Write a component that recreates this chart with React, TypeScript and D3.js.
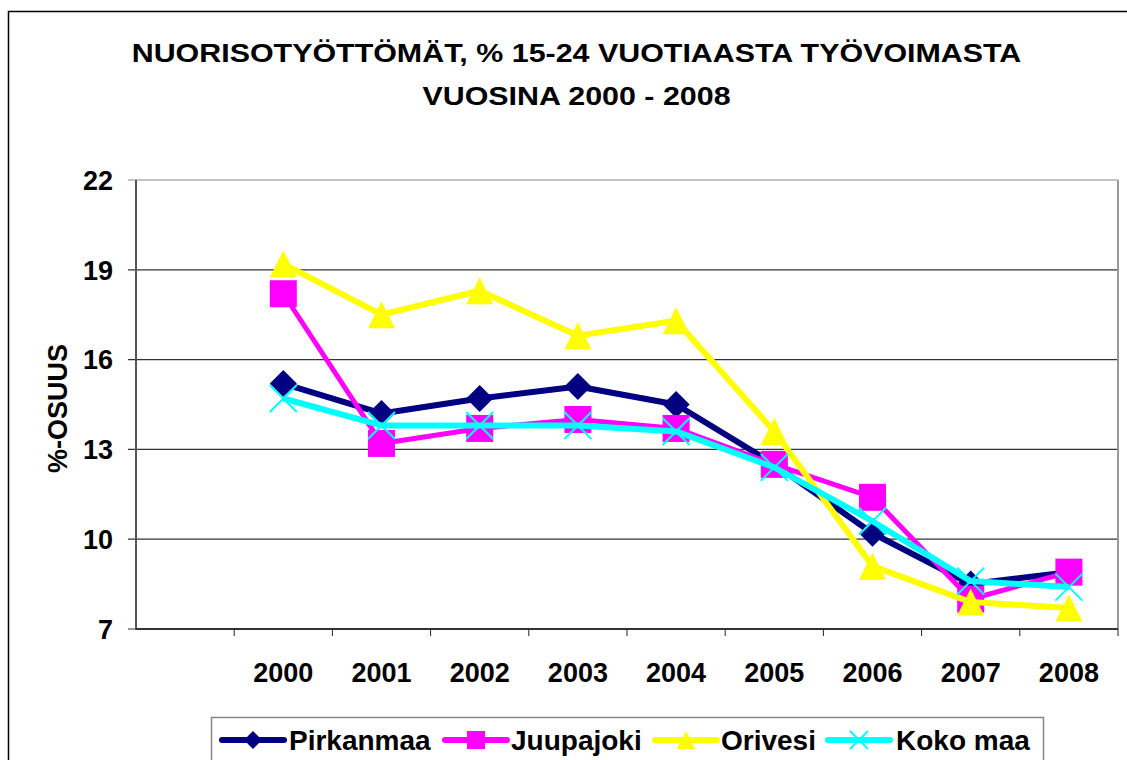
import React from "react";
import * as d3 from "d3";

const categories = ["", "2000", "2001", "2002", "2003", "2004", "2005", "2006", "2007", "2008"];
const years = ["2000", "2001", "2002", "2003", "2004", "2005", "2006", "2007", "2008"];
const pirkanmaa = [15.2, 14.2, 14.7, 15.1, 14.5, 12.5, 10.2, 8.5, 8.9];
const juupajoki = [18.2, 13.2, 13.7, 14.0, 13.7, 12.5, 11.4, 8.0, 8.9];
const orivesi = [19.2, 17.5, 18.3, 16.8, 17.3, 13.6, 9.1, 7.9, 7.7];
const kokoMaa = [14.7, 13.8, 13.8, 13.8, 13.6, 12.4, 10.6, 8.6, 8.4];
const yTicks = [7, 10, 13, 16, 19, 22];
const titleLines = ["NUORISOTYÖTTÖMÄT, % 15-24 VUOTIAASTA TYÖVOIMASTA", "VUOSINA 2000 - 2008"];
const yTitle = "%-OSUUS";

const series = [
  { name: "Pirkanmaa", values: pirkanmaa, color: "#000080", marker: "diamond", width: 6 },
  { name: "Juupajoki", values: juupajoki, color: "#FF00FF", marker: "square", width: 5 },
  { name: "Orivesi", values: orivesi, color: "#FFFF00", marker: "triangle", width: 6 },
  { name: "Koko maa", values: kokoMaa, color: "#00FFFF", marker: "x", width: 6 },
];

const FONT = "'Liberation Sans', Arial, Helvetica, sans-serif";

function Marker({ type, x, y, color, s }: { type: string; x: number; y: number; color: string; s: number }) {
  const h = s / 2;
  if (type === "diamond") {
    return <path d={`M${x},${y - h}L${x + h},${y}L${x},${y + h}L${x - h},${y}Z`} fill={color} />;
  }
  if (type === "square") {
    return <rect x={x - h} y={y - h} width={s} height={s} fill={color} />;
  }
  if (type === "triangle") {
    return <path d={`M${x},${y - h}L${x + h},${y + h}L${x - h},${y + h}Z`} fill={color} />;
  }
  return (
    <path d={`M${x - h},${y - h}L${x + h},${y + h}M${x + h},${y - h}L${x - h},${y + h}`} stroke={color} strokeWidth={2} fill="none" />
  );
}

export default function App() {
  const W = 1127, H = 760;
  const left = 136, right = 1118, top = 180, bottom = 629;
  const x = d3.scaleBand<string>().domain(categories).range([left, right]);
  const y = d3.scaleLinear().domain([7, 22]).range([bottom, top]);
  const cx = (c: string) => (x(c) as number) + x.bandwidth() / 2;
  const line = d3.line<number>().x((_, i) => cx(years[i])).y((v) => y(v));

  const legendItems = [
    { ...series[0], lx: 222, tx: 289 },
    { ...series[1], lx: 445, tx: 511 },
    { ...series[2], lx: 655, tx: 721 },
    { ...series[3], lx: 828, tx: 896 },
  ];

  return (
    <svg width={W} height={H} style={{ position: "absolute", left: 0, top: 0, background: "#fff" }} fontFamily={FONT}>
      <rect x={8.5} y={11.5} width={W + 10} height={H} fill="#fff" stroke="#000" strokeWidth={1.5} />
      {titleLines.map((t, i) => (
        <text key={i} transform={`translate(576.5,${62 + i * 43}) scale(1.17,1)`} textAnchor="middle" fontWeight="bold" fontSize={26}>{t}</text>
      ))}
      {yTicks.map((t) => (
        <line key={t} x1={left - 8} x2={right} y1={y(t)} y2={y(t)} stroke={t === 22 ? "#888" : "#333"} strokeWidth={1.2} />
      ))}
      <line x1={right} x2={right} y1={top} y2={bottom} stroke="#999" strokeWidth={2} />
      <line x1={left} x2={left} y1={top} y2={bottom + 1} stroke="#555" strokeWidth={2} />
      <line x1={left} x2={right} y1={bottom} y2={bottom} stroke="#333" strokeWidth={2} />
      {categories.map((c, i) => (
        <line key={i} x1={(x(c) as number) + x.bandwidth()} x2={(x(c) as number) + x.bandwidth()} y1={bottom} y2={bottom + 7} stroke="#222" strokeWidth={1} />
      ))}
      {yTicks.map((t) => (
        <text key={t} x={113} y={y(t)} dy="0.36em" textAnchor="end" fontWeight="bold" fontSize={27}>{t}</text>
      ))}
      {years.map((c) => (
        <text key={c} x={cx(c)} y={682} textAnchor="middle" fontWeight="bold" fontSize={27}>{c}</text>
      ))}
      <text transform={`translate(57,${(top + bottom) / 2 + 4}) rotate(-90)`} textAnchor="middle" dy="0.36em" fontWeight="bold" fontSize={27}>{yTitle}</text>
      {series.map((s) => (
        <g key={s.name}>
          <path d={line(s.values) || ""} fill="none" stroke={s.color} strokeWidth={s.width} strokeLinejoin="round" />
          {s.values.map((v, i) => (
            <Marker key={i} type={s.marker} x={cx(years[i])} y={y(v)} color={s.color} s={27} />
          ))}
        </g>
      ))}
      <rect x={211.5} y={717.5} width={832} height={60} fill="#fff" stroke="#888" strokeWidth={1.5} />
      {legendItems.map((s) => (
        <g key={s.name}>
          <line x1={s.lx} x2={s.lx + 62} y1={740} y2={740} stroke={s.color} strokeWidth={6} strokeLinecap="round" />
          <Marker type={s.marker} x={s.lx + 31} y={740} color={s.color} s={18} />
          <text x={s.tx} y={750} fontWeight="bold" fontSize={28}>{s.name}</text>
        </g>
      ))}
    </svg>
  );
}
